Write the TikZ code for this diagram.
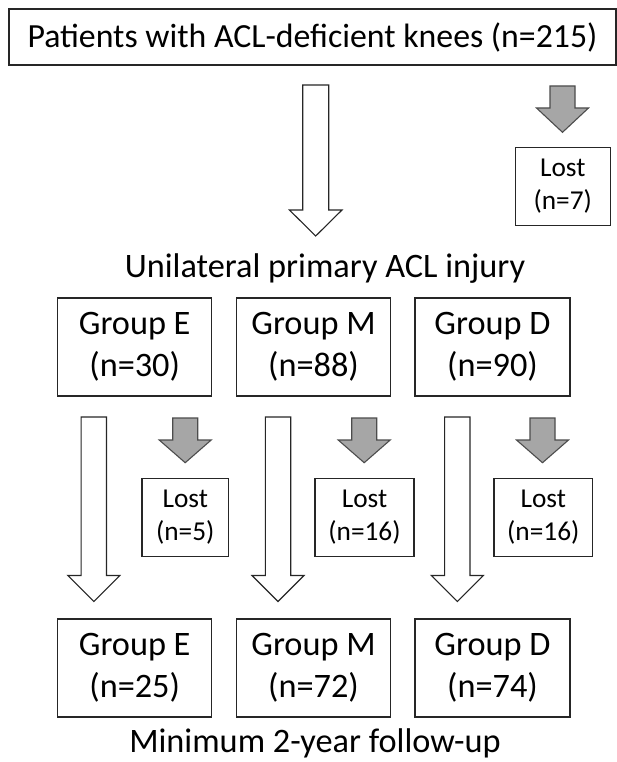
\documentclass[tikz,border=0pt]{standalone}
\usepackage{fontspec}
\setmainfont{Carlito}
\definecolor{linec}{HTML}{262626}
\definecolor{grayfill}{HTML}{A6A6A6}
\newcommand\blockarr[7]{% style, cx, ytop, yhead, ytip, shaft half, head half
  \draw[#1] (#2-#6,#3) -- (#2+#6,#3) -- (#2+#6,#4) -- (#2+#7,#4) -- (#2,#5)
    -- (#2-#7,#4) -- (#2-#6,#4) -- cycle;}
\begin{document}
\begin{tikzpicture}[x=1pt,y=-1pt,
  box/.style={draw=linec, line width=1.2pt, fill=white, inner sep=0pt, align=center},
  bigtext/.style={font=\fontsize{34.3}{41.7}\selectfont},
  titletext/.style={font=\fontsize{33.8}{41.7}\selectfont},
  smalltext/.style={font=\fontsize{27.3}{33}\selectfont},
  grp/.style={box, bigtext, minimum width=154, minimum height=98},
  lost/.style={box, smalltext, minimum height=78.2},
  warrow/.style={draw=linec, line width=1.1pt, fill=white, line join=miter},
  garrow/.style={draw=black!70, line width=1.1pt, fill=grayfill, line join=miter}]
\useasboundingbox (0,0) rectangle (617,762);
% title
\node[box, titletext, minimum width=607, minimum height=56] (title) at (312.5,37) {Patients with ACL-deficient knees (n=215)};
% arrows from title
\blockarr{warrow}{315.7}{85}{210}{236}{13}{26.3}
\blockarr{garrow}{562.5}{86}{108}{132.3}{12.5}{26}
\node[lost, minimum width=95] (lost0) at (562.8,186.6) {Lost\\(n=7)};
\node[bigtext, anchor=base] (unil) at (325,277) {Unilateral primary ACL injury};
% groups
\node[grp] (gE1) at (134.7,347) {Group E\\(n=30)};
\node[grp, minimum width=153.6] (gM1) at (313.5,347) {Group M\\(n=88)};
\node[grp, minimum width=155] (gD1) at (492.5,347) {Group D\\(n=90)};
% arrows
\blockarr{warrow}{93.8}{417}{575.5}{601.5}{12.7}{26}
\blockarr{warrow}{278}{417}{575.5}{601.5}{12.7}{26}
\blockarr{warrow}{457.3}{417}{575.5}{601.5}{12.7}{26}
\blockarr{garrow}{185.2}{418}{440}{462.7}{12.5}{26}
\blockarr{garrow}{364.2}{418}{440}{462.7}{12.5}{26}
\blockarr{garrow}{542.5}{418}{440}{462.7}{12.5}{26}
% lost boxes
\node[lost, minimum width=86.7] (lostE) at (185.3,517.6) {Lost\\(n=5)};
\node[lost, minimum width=99] (lostM) at (364.5,517.6) {Lost\\(n=16)};
\node[lost, minimum width=98.7] (lostD) at (543.3,517.6) {Lost\\(n=16)};
% final groups
\node[grp] (gE2) at (134.7,668) {Group E\\(n=25)};
\node[grp, minimum width=153.6] (gM2) at (313.5,668) {Group M\\(n=72)};
\node[grp, minimum width=155] (gD2) at (492.5,668) {Group D\\(n=74)};
\node[bigtext, anchor=base] (minfu) at (315,752) {Minimum 2-year follow-up};
\end{tikzpicture}
\end{document}
